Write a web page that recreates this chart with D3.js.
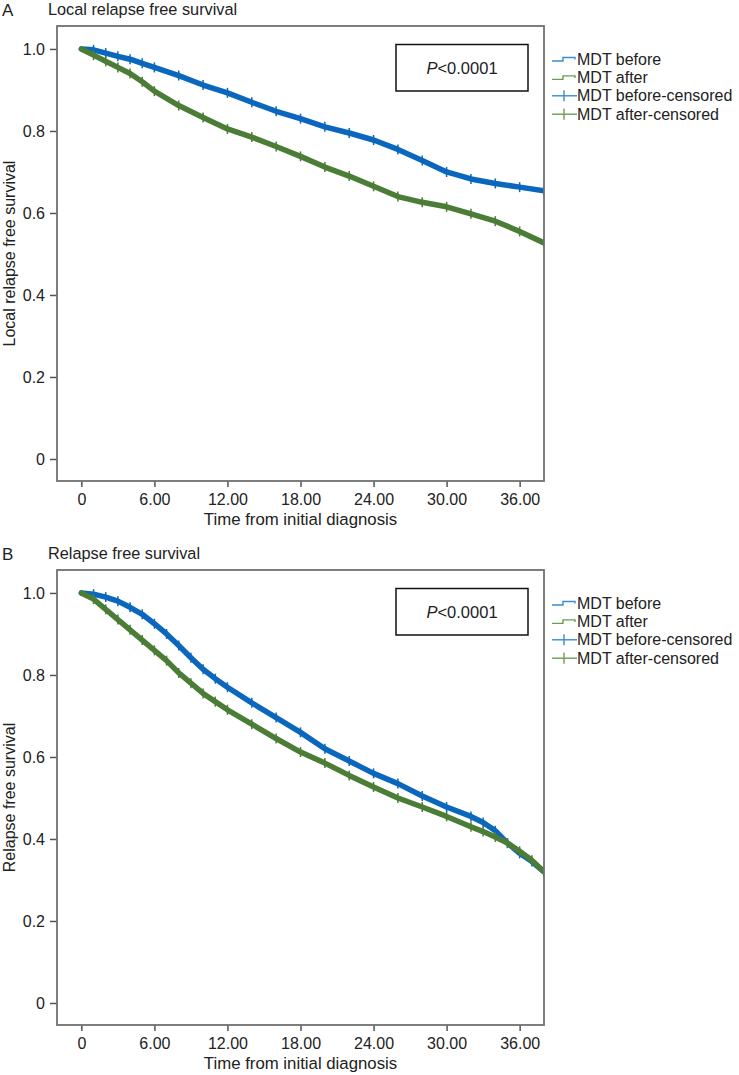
<!DOCTYPE html>
<html><head><meta charset="utf-8">
<script src="https://cdn.jsdelivr.net/npm/d3@7"></script>
<style>body{margin:0;background:#fff}svg{display:block;font-family:"Liberation Sans",Arial,sans-serif}</style>
</head><body><svg id="c" width="739" height="1075"></svg>
<script>
// ---- data ----
const xTicks = [0, 6, 12, 18, 24, 30, 36];
const xTickLabels = ["0", "6.00", "12.00", "18.00", "24.00", "30.00", "36.00"];
const yTicks = [0, 0.2, 0.4, 0.6, 0.8, 1.0];
const yTickLabels = ["0", "0.2", "0.4", "0.6", "0.8", "1.0"];
const legendLabels = ["MDT before", "MDT after", "MDT before-censored", "MDT after-censored"];
const seriesNames = ["MDT before", "MDT after"];

// Panel A: local relapse free survival
const timeA   = [0, 1, 2, 3, 4, 5, 6, 8, 10, 12, 14, 16, 18, 20, 22, 24, 26, 28, 30, 32, 34, 36, 38];
const beforeA = [1.0, 0.998, 0.99, 0.982, 0.975, 0.965, 0.955, 0.935, 0.912, 0.893, 0.87, 0.848, 0.83, 0.81, 0.795, 0.778, 0.755, 0.728, 0.70, 0.683, 0.672, 0.663, 0.654];
const afterA  = [1.0, 0.985, 0.97, 0.955, 0.94, 0.92, 0.897, 0.862, 0.833, 0.805, 0.785, 0.762, 0.738, 0.712, 0.69, 0.665, 0.64, 0.626, 0.615, 0.598, 0.58, 0.555, 0.527];

// Panel B: relapse free survival
const timeB   = [0, 1, 2, 3, 4, 5, 6, 7, 8, 9, 10, 11, 12, 14, 16, 18, 20, 22, 24, 26, 28, 30, 32, 33, 34, 35, 36, 37, 38];
const beforeB = [1.0, 0.997, 0.99, 0.98, 0.965, 0.948, 0.925, 0.90, 0.872, 0.842, 0.814, 0.791, 0.77, 0.732, 0.696, 0.66, 0.62, 0.59, 0.56, 0.535, 0.505, 0.478, 0.455, 0.44, 0.42, 0.39, 0.365, 0.345, 0.32];
const afterB  = [1.0, 0.985, 0.96, 0.935, 0.91, 0.885, 0.86, 0.835, 0.805, 0.78, 0.755, 0.735, 0.715, 0.68, 0.645, 0.612, 0.585, 0.555, 0.527, 0.50, 0.478, 0.455, 0.43, 0.418, 0.405, 0.39, 0.37, 0.348, 0.32];

// ---- style ----
const BLUE = "#0a67bd", GREEN = "#4b7d36";
const BLUE_L = "#3a8ad4", GREEN_L = "#6f9a55";
const FRAME = "#707070";

const svg = d3.select("#c");
const L = 57, R = 544, H = 455;

function panel(top, letter, title, yTitle, times, before, after) {
  const g = svg.append("g");
  const x = d3.scaleLinear().domain([-2, 38]).range([L, R]);
  const y = d3.scaleLinear().domain([-0.0537, 1.056]).range([top + H, top]);

  g.append("text").attr("x", 2).attr("y", top - 10).attr("font-size", 17).attr("fill", "#222").text(letter);
  g.append("text").attr("x", 48).attr("y", top - 11).attr("font-size", 16.3).attr("fill", "#222").text(title);

  // axes
  const ya = g.append("g").attr("transform", `translate(${L},0)`)
    .call(d3.axisLeft(y).tickValues(yTicks).tickFormat((d, i) => yTickLabels[i]).tickSize(7).tickPadding(5));
  const xa = g.append("g").attr("transform", `translate(0,${top + H})`)
    .call(d3.axisBottom(x).tickValues(xTicks).tickFormat((d, i) => xTickLabels[i]).tickSize(6).tickPadding(7));
  [ya, xa].forEach(a => {
    a.select(".domain").remove();
    a.selectAll(".tick line").attr("stroke", "#555").attr("stroke-width", 1.5);
    a.selectAll(".tick text").attr("font-size", 16).attr("fill", "#222").attr("font-family", "Liberation Sans, Arial, sans-serif");
  });

  g.append("text").attr("x", (L + R) / 2).attr("y", top + H + 44).attr("text-anchor", "middle")
    .attr("font-size", 16.8).attr("fill", "#222").text("Time from initial diagnosis");
  g.append("text").attr("transform", `translate(15,${top + H / 2}) rotate(-90)`).attr("text-anchor", "middle")
    .attr("font-size", 16).attr("fill", "#222").text(yTitle);

  // curves
  const clip = "clip" + letter;
  g.append("clipPath").attr("id", clip).append("rect").attr("x", L).attr("y", top).attr("width", R - L).attr("height", H);
  const plot = g.append("g").attr("clip-path", `url(#${clip})`);
  const line = d3.line().x(d => x(d[0])).y(d => y(d[1]));
  [[before, BLUE], [after, GREEN]].forEach(([vals, col]) => {
    const pts = times.map((t, i) => [t, vals[i]]);
    plot.append("path").attr("d", line(pts)).attr("fill", "none").attr("stroke", col)
      .attr("stroke-width", 5.5).attr("stroke-linejoin", "round").attr("stroke-linecap", "round");
    plot.selectAll(null).data(pts.slice(1)).enter().append("line")
      .attr("x1", d => x(d[0])).attr("x2", d => x(d[0]))
      .attr("y1", d => y(d[1]) - 5).attr("y2", d => y(d[1]) + 5)
      .attr("stroke", col).attr("stroke-width", 1.5);
  });

  // frame
  g.append("rect").attr("x", L).attr("y", top).attr("width", R - L).attr("height", H)
    .attr("fill", "none").attr("stroke", FRAME).attr("stroke-width", 1.8);

  // p-value box
  g.append("rect").attr("x", 396).attr("y", top + 18.5).attr("width", 132).attr("height", 46.5)
    .attr("fill", "#fff").attr("stroke", "#111").attr("stroke-width", 1.5);
  const pt = g.append("text").attr("x", 462).attr("y", top + 48).attr("text-anchor", "middle")
    .attr("font-size", 16.5).attr("fill", "#222");
  pt.append("tspan").attr("font-style", "italic").text("P");
  pt.append("tspan").text("<0.0001");

  // legend
  const ly0 = top + 33, dy = 18.4;
  const cols = [BLUE_L, GREEN_L, BLUE_L, GREEN_L];
  legendLabels.forEach((lab, i) => {
    const ly = ly0 + i * dy;
    if (i < 2) {
      g.append("path").attr("d", `M552,${ly + 2}H563V${ly - 1.5}H575V${ly + 0.5}`)
        .attr("fill", "none").attr("stroke", cols[i]).attr("stroke-width", 1.4);
    } else {
      g.append("line").attr("x1", 552).attr("x2", 577).attr("y1", ly).attr("y2", ly).attr("stroke", cols[i]).attr("stroke-width", 1.4);
      g.append("line").attr("x1", 564).attr("x2", 564).attr("y1", ly - 5.5).attr("y2", ly + 5.5).attr("stroke", cols[i]).attr("stroke-width", 1.4);
    }
    g.append("text").attr("x", 577).attr("y", ly + 5.5).attr("font-size", 16).attr("fill", "#222").text(lab);
  });
}

panel(26, "A", "Local relapse free survival", "Local relapse free survival", timeA, beforeA, afterA);
panel(570, "B", "Relapse free survival", "Relapse free survival", timeB, beforeB, afterB);
</script></body></html>
